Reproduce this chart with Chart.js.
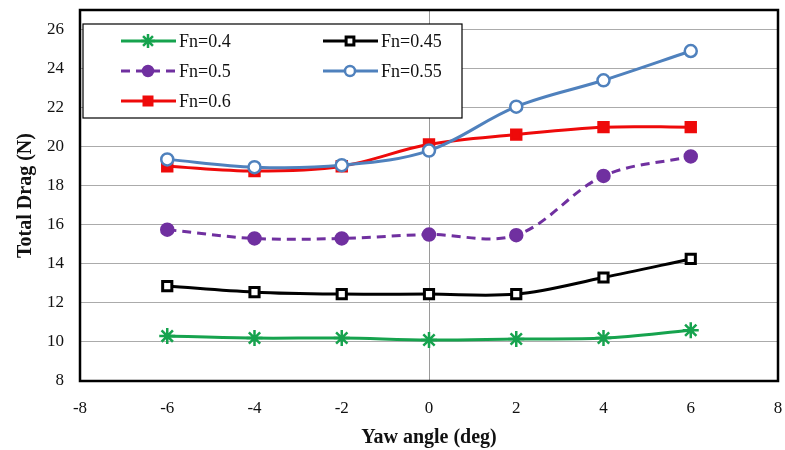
<!DOCTYPE html>
<html>
<head>
<meta charset="utf-8">
<script src="https://cdn.jsdelivr.net/npm/chart.js@4"></script>
<style>
  html, body { margin: 0; padding: 0; background: #fff; }
  #wrap { width: 785px; height: 450px; position: relative; }
</style>
</head>
<body>
<div id="wrap"><canvas id="dragChart"></canvas></div>
<script>
// yaw angle (deg) and total drag (N) per Froude number
const yawAngles = [-6, -4, -2, 0, 2, 4, 6];
const fn04  = [10.3, 10.2, 10.2, 10.1, 10.15, 10.2, 10.6];
const fn045 = [12.86, 12.55, 12.45, 12.45, 12.45, 13.3, 14.25];
const fn05  = [15.75, 15.3, 15.3, 15.5, 15.47, 18.5, 19.5];
const fn055 = [19.35, 18.95, 19.05, 19.8, 22.05, 23.4, 24.9];
const fn06  = [19.0, 18.75, 19.0, 20.12, 20.62, 21.0, 21.0];
const seriesLabels = ['Fn=0.4', 'Fn=0.45', 'Fn=0.5', 'Fn=0.55', 'Fn=0.6'];
const xTicks = [-8, -6, -4, -2, 0, 2, 4, 6, 8];
const yTicks = [8, 10, 12, 14, 16, 18, 20, 22, 24, 26];

const serif = '"Liberation Serif", "Times New Roman", serif';
const pts = vals => vals.map((v, i) => ({ x: yawAngles[i], y: v }));

function makeSet(label, vals, color, extra) {
    return Object.assign({
        label: label,
        data: pts(vals),
        borderColor: color,
        backgroundColor: color,
        pointBorderColor: color,
        pointBackgroundColor: color,
        borderWidth: 3,
        tension: 0.35,
        pointRadius: 6,
        pointBorderWidth: 2.5,
        pointHoverRadius: 6,
    }, extra || {});
}

const datasets = [
    makeSet(seriesLabels[0], fn04, '#16A34E', { pointStyle: 'star', pointRadius: 8, pointBorderWidth: 2.5 }),
    makeSet(seriesLabels[1], fn045, '#000000', { pointStyle: 'rect', pointBackgroundColor: '#ffffff', pointRadius: 6.5, pointBorderWidth: 3 }),
    makeSet(seriesLabels[2], fn05, '#7030A0', { pointStyle: 'circle', borderDash: [9, 6], pointRadius: 6 }),
    makeSet(seriesLabels[3], fn055, '#4F81BD', { pointStyle: 'circle', pointBackgroundColor: '#ffffff', pointRadius: 6 }),
    makeSet(seriesLabels[4], fn06, '#EE0A0A', { pointStyle: 'rect', pointRadius: 7 }),
];

// black frame round the plot area
const framePlugin = {
    id: 'frame',
    afterDatasetsDraw(chart) {
        const a = chart.chartArea, c = chart.ctx;
        c.save();
        c.strokeStyle = '#000';
        c.lineWidth = 2.5;
        c.strokeRect(a.left, a.top, a.right - a.left, a.bottom - a.top);
        c.restore();
    }
};

// boxed legend inside the plot, two columns like the original
const boxLegend = {
    id: 'boxLegend',
    afterDraw(chart) {
        const c = chart.ctx, a = chart.chartArea;
        const bx = a.left + 3, by = a.top + 14, bw = 379, bh = 94;
        c.save();
        c.fillStyle = '#fff';
        c.fillRect(bx, by, bw, bh);
        c.strokeStyle = '#000';
        c.lineWidth = 1.2;
        c.strokeRect(bx, by, bw, bh);
        c.font = '18px ' + serif;
        c.textBaseline = 'middle';
        chart.data.datasets.forEach((ds, i) => {
            const col = i % 2, row = Math.floor(i / 2);
            const x0 = bx + 38 + col * 202, y0 = by + 17 + row * 30;
            c.strokeStyle = ds.borderColor;
            c.lineWidth = 3;
            c.setLineDash(ds.borderDash || []);
            c.beginPath();
            c.moveTo(x0, y0);
            c.lineTo(x0 + 55, y0);
            c.stroke();
            c.setLineDash([]);
            c.lineWidth = ds.pointBorderWidth;
            c.strokeStyle = ds.pointBorderColor;
            c.fillStyle = ds.pointBackgroundColor;
            Chart.helpers.drawPoint(c, {
                pointStyle: ds.pointStyle, radius: ds.pointRadius - 1, borderWidth: ds.pointBorderWidth, rotation: 0
            }, x0 + 27, y0);
            c.fillStyle = '#111';
            c.fillText(ds.label, x0 + 58, y0 + 1);
        });
        c.restore();
    }
};

new Chart(document.getElementById('dragChart'), {
    type: 'line',
    data: { datasets: datasets },
    plugins: [framePlugin, boxLegend],
    options: {
        responsive: true,
        maintainAspectRatio: false,
        animation: false,
        layout: { autoPadding: false, padding: { top: 10, right: 7, left: 8, bottom: 0 } },
        plugins: {
            legend: { display: false },
            tooltip: { enabled: false }
        },
        scales: {
            x: {
                type: 'linear',
                min: -8,
                max: 8,
                afterBuildTicks: s => { s.ticks = xTicks.map(v => ({ value: v })); },
                afterFit: s => { s.height = 69; s.paddingLeft = 0; s.paddingRight = 0; },
                grid: {
                    drawTicks: false,
                    color: ctx => ctx.tick && ctx.tick.value === 0 ? '#9a9a9a' : 'rgba(0,0,0,0)',
                    lineWidth: 1
                },
                border: { display: false },
                ticks: { color: '#111', font: { family: serif, size: 17 }, padding: 17 },
                title: {
                    display: true,
                    text: 'Yaw angle (deg)',
                    color: '#111',
                    font: { family: serif, size: 20, weight: 'bold' },
                    padding: { top: 4, bottom: 0 }
                }
            },
            y: {
                type: 'linear',
                min: 8,
                max: 27,
                afterBuildTicks: s => { s.ticks = yTicks.map(v => ({ value: v })); },
                afterFit: s => { s.width = 72; s.paddingTop = 0; s.paddingBottom = 0; },
                grid: { drawTicks: false, color: '#ababab', lineWidth: 1 },
                border: { display: false },
                ticks: { color: '#111', font: { family: serif, size: 17 }, padding: 16 },
                title: {
                    display: true,
                    text: 'Total Drag (N)',
                    color: '#111',
                    font: { family: serif, size: 20, weight: 'bold' },
                    padding: { top: 6, bottom: 0 }
                }
            }
        }
    }
});
</script>
</body>
</html>
